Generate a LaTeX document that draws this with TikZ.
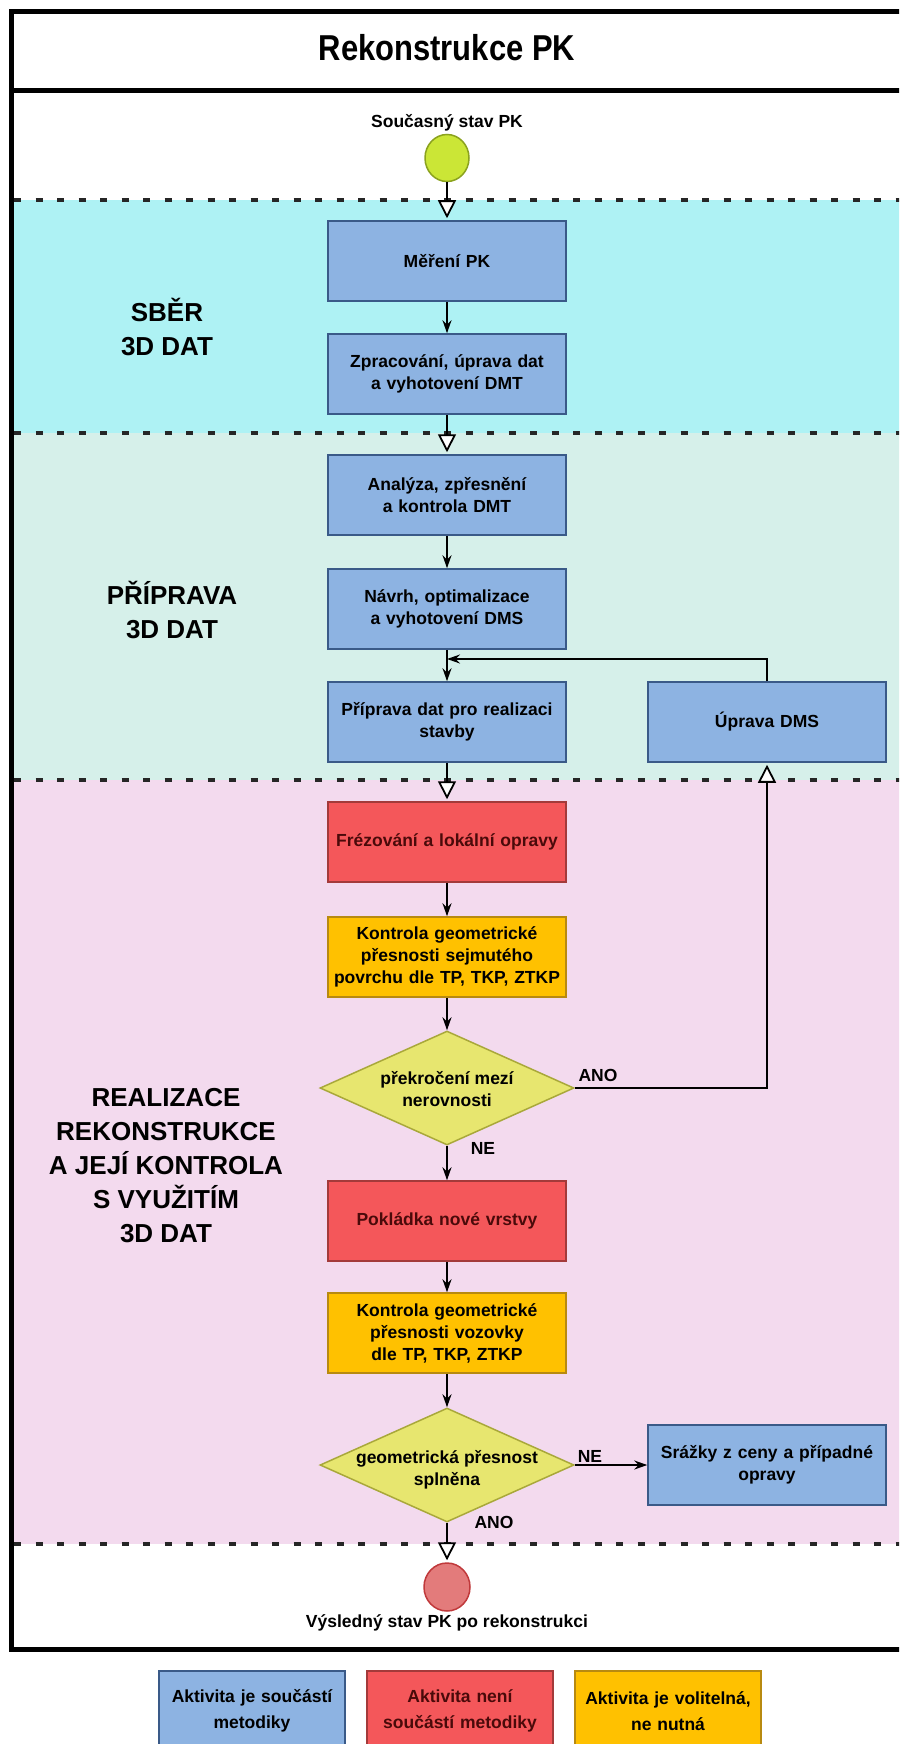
\documentclass[tikz,border=0pt]{standalone}
\usepackage{fontspec}
\usepackage{graphicx}
\setmainfont{Liberation Sans}
\usetikzlibrary{arrows.meta,shapes.geometric}
\definecolor{bandcyan}{HTML}{AEF2F4}
\definecolor{bandgreen}{HTML}{D6F0EA}
\definecolor{bandpink}{HTML}{F3DAEE}
\definecolor{boxblue}{HTML}{8DB3E2}
\definecolor{boxblueline}{HTML}{3A5A88}
\definecolor{boxred}{HTML}{F4575A}
\definecolor{boxredline}{HTML}{A33A3A}
\definecolor{boxorange}{HTML}{FFC100}
\definecolor{boxorangeline}{HTML}{B88A10}
\definecolor{diafill}{HTML}{E7E66F}
\definecolor{dialine}{HTML}{A9A83A}
\definecolor{startfill}{HTML}{CBE636}
\definecolor{startline}{HTML}{8BA21E}
\definecolor{endfill}{HTML}{E37B7B}
\definecolor{endline}{HTML}{C0393B}
\definecolor{redtext}{HTML}{4A0A0A}
\begin{document}
\begin{tikzpicture}[x=1pt,y=-1pt,
  txt/.style={font=\fontsize{17.5}{22}\selectfont\bfseries, align=center},
  act/.style={txt, rectangle, minimum width=238pt, minimum height=80pt, inner sep=0pt, line width=1.5pt, text width=236pt},
  blueact/.style={act, fill=boxblue, draw=boxblueline},
  redact/.style={act, fill=boxred, draw=boxredline, text=redtext},
  orangeact/.style={act, fill=boxorange, draw=boxorangeline},
  decision/.style={diamond, minimum width=254pt, minimum height=114pt, inner sep=0pt, fill=diafill, draw=dialine, line width=1.5pt},
  legbox/.style={txt, rectangle, minimum width=186pt, minimum height=80pt, inner sep=0pt, line width=1.5pt, text width=184pt, font=\fontsize{17.5}{26}\selectfont\bfseries},
  lane/.style={font=\fontsize{26}{34}\selectfont\bfseries, align=center},
  sep/.style={line width=3.5pt, dash pattern=on 7pt off 14.5pt, draw=black!85},
  arr/.style={-{Stealth[length=13pt,width=9pt]}, line width=1.8pt},
  opentri/.style={-{Triangle[length=18pt,width=18pt,fill=white]}, line width=1.8pt, shorten >=2pt},
  lbl/.style={txt}
]
\clip (0,0) rectangle (899,1744);
\useasboundingbox (0,0) rectangle (899,1744);
\fill[white] (0,0) rectangle (899,1744);
% bands
\fill[bandcyan] (11,200) rectangle (910,433);
\fill[bandgreen] (11,433) rectangle (910,780);
\fill[bandpink] (11,780) rectangle (910,1544);
% separators
\draw[sep] (14,200) -- (910,200);
\draw[sep] (14,433) -- (910,433);
\draw[sep] (14,780) -- (910,780);
\draw[sep] (14,1544) -- (910,1544);
% frame
\draw[line width=5pt] (910,12) -- (11,12) -- (11,1649) -- (910,1649);
\draw[line width=5pt] (11,91) -- (910,91);
% title and lane labels
\node[font=\fontsize{36}{40}\selectfont\bfseries] (title) at (447,48) {\scalebox{0.86}[1]{Rekonstrukce PK}};
\node[lane] (lane1) at (167,327) {SBĚR\\3D DAT};
\node[lane] (lane2) at (172,610) {PŘÍPRAVA\\3D DAT};
\node[lane] (lane3) at (166,1166) {REALIZACE\\REKONSTRUKCE\\A JEJÍ KONTROLA\\S VYUŽITÍM\\3D DAT};
% start
\node[txt] (startlbl) at (447,123) {Současný stav PK};
\node[ellipse, minimum width=44pt, minimum height=47pt, inner sep=0pt, fill=startfill, draw=startline, line width=1.5pt] (start) at (447,158) {};
% activities
\node[blueact] (m1) at (447,261) {Měření PK};
\node[blueact] (m2) at (447,374) {Zpracování, úprava dat\\a vyhotovení DMT};
\node[blueact] (m3) at (447,495) {Analýza, zpřesnění\\a kontrola DMT};
\node[blueact] (m4) at (447,609) {Návrh, optimalizace\\a vyhotovení DMS};
\node[blueact] (m5) at (447,722) {Příprava dat pro realizaci\\stavby};
\node[blueact] (up) at (767,722) {Úprava DMS};
\node[redact] (m6) at (447,842) {Frézování a lokální opravy};
\node[orangeact] (m7) at (447,957) {Kontrola geometrické\\přesnosti sejmutého\\povrchu dle TP, TKP, ZTKP};
\node[decision] (d1) at (447,1088) {};
\node[txt] (d1t) at (447,1089) {překročení mezí\\nerovnosti};
\node[redact] (m8) at (447,1221) {Pokládka nové vrstvy};
\node[orangeact] (m9) at (447,1333) {Kontrola geometrické\\přesnosti vozovky\\dle TP, TKP, ZTKP};
\node[decision] (d2) at (447,1465) {};
\node[txt] (d2t) at (447,1470) {geometrická přesnost\\splněna};
\node[blueact] (sr) at (767,1465) {Srážky z ceny a případné\\opravy};
\node[ellipse, minimum width=46pt, minimum height=48pt, inner sep=0pt, fill=endfill, draw=endline, line width=1.5pt] (end) at (447,1587) {};
\node[txt] (endlbl) at (447,1623) {Výsledný stav PK po rekonstrukci};
\coordinate (fb) at (447,659);
% connectors
\draw[opentri] (start) -- (m1);
\draw[arr] (m1) -- (m2);
\draw[opentri] (m2) -- (m3);
\draw[arr] (m3) -- (m4);
\draw[arr] (m4) -- (m5);
\draw[opentri] (m5) -- (m6);
\draw[arr] (m6) -- (m7);
\draw[arr] (m7) -- (d1);
\draw[opentri] (d1.east) -| (up.south);
\draw[arr] (up.north) |- (fb);
\draw[arr] (d1.south) -- (m8);
\draw[arr] (m8) -- (m9);
\draw[arr] (m9) -- (d2);
\draw[arr] (d2.east) -- (sr.west);
\draw[opentri] (d2.south) -- (end);
% branch labels
\node[lbl] (ano1) at (598,1075) {ANO};
\node[lbl] (ne1) at (483,1148) {NE};
\node[lbl] (ne2) at (590,1456) {NE};
\node[lbl] (ano2) at (494,1522) {ANO};
% legend
\node[legbox, fill=boxblue, draw=boxblueline] (leg1) at (252,1711) {Aktivita je součástí\\metodiky\\[6pt]};
\node[legbox, fill=boxred, draw=boxredline, text=redtext] (leg2) at (460,1711) {Aktivita není\\součástí metodiky\\[6pt]};
\node[legbox, fill=boxorange, draw=boxorangeline] (leg3) at (668,1711) {Aktivita je volitelná,\\ne nutná\\[6pt]};
\end{tikzpicture}
\end{document}
